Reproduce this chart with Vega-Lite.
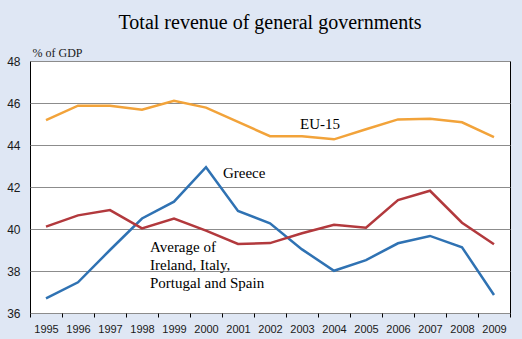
{
  "$schema": "https://vega.github.io/schema/vega-lite/v6.json",
  "width": 480,
  "height": 252,
  "autosize": {"type": "none"},
  "padding": {"left": 30, "top": 61, "right": 12, "bottom": 26},
  "background": "#dfe7f4",
  "title": {
    "text": "Total revenue of general governments",
    "font": "Liberation Serif",
    "fontSize": 20,
    "fontWeight": "normal",
    "color": "#000000",
    "anchor": "middle",
    "offset": 13
  },
  "config": {
    "view": {"fill": "#ffffff", "stroke": "#000000", "strokeWidth": 1}
  },
  "datasets": {
    "revenue": [
      {"year": 1995, "series": "EU-15", "value": 45.18},
      {"year": 1996, "series": "EU-15", "value": 45.87},
      {"year": 1997, "series": "EU-15", "value": 45.87},
      {"year": 1998, "series": "EU-15", "value": 45.68},
      {"year": 1999, "series": "EU-15", "value": 46.1},
      {"year": 2000, "series": "EU-15", "value": 45.78},
      {"year": 2001, "series": "EU-15", "value": 45.1},
      {"year": 2002, "series": "EU-15", "value": 44.42},
      {"year": 2003, "series": "EU-15", "value": 44.42},
      {"year": 2004, "series": "EU-15", "value": 44.27},
      {"year": 2005, "series": "EU-15", "value": 44.75},
      {"year": 2006, "series": "EU-15", "value": 45.22},
      {"year": 2007, "series": "EU-15", "value": 45.25},
      {"year": 2008, "series": "EU-15", "value": 45.08},
      {"year": 2009, "series": "EU-15", "value": 44.38},
      {"year": 1995, "series": "Greece", "value": 36.7},
      {"year": 1996, "series": "Greece", "value": 37.46},
      {"year": 1997, "series": "Greece", "value": 39.0},
      {"year": 1998, "series": "Greece", "value": 40.5},
      {"year": 1999, "series": "Greece", "value": 41.3},
      {"year": 2000, "series": "Greece", "value": 42.94},
      {"year": 2001, "series": "Greece", "value": 40.86},
      {"year": 2002, "series": "Greece", "value": 40.27},
      {"year": 2003, "series": "Greece", "value": 39.03},
      {"year": 2004, "series": "Greece", "value": 38.01},
      {"year": 2005, "series": "Greece", "value": 38.52},
      {"year": 2006, "series": "Greece", "value": 39.32},
      {"year": 2007, "series": "Greece", "value": 39.67},
      {"year": 2008, "series": "Greece", "value": 39.13},
      {"year": 2009, "series": "Greece", "value": 36.86},
      {"year": 1995, "series": "Average", "value": 40.11},
      {"year": 1996, "series": "Average", "value": 40.65},
      {"year": 1997, "series": "Average", "value": 40.9},
      {"year": 1998, "series": "Average", "value": 40.03},
      {"year": 1999, "series": "Average", "value": 40.5},
      {"year": 2000, "series": "Average", "value": 39.92},
      {"year": 2001, "series": "Average", "value": 39.29},
      {"year": 2002, "series": "Average", "value": 39.33},
      {"year": 2003, "series": "Average", "value": 39.8},
      {"year": 2004, "series": "Average", "value": 40.2},
      {"year": 2005, "series": "Average", "value": 40.06},
      {"year": 2006, "series": "Average", "value": 41.38},
      {"year": 2007, "series": "Average", "value": 41.82},
      {"year": 2008, "series": "Average", "value": 40.3},
      {"year": 2009, "series": "Average", "value": 39.27}
    ],
    "labels": [
      {"year": 2002.94, "value": 44.78, "label": "EU-15"},
      {"year": 2000.53, "value": 42.41, "label": "Greece"},
      {"year": 1998.25, "value": 38.92, "label": "Average of\nIreland, Italy,\nPortugal and Spain"}
    ]
  },
  "encoding": {
    "x": {
      "field": "year",
      "type": "quantitative",
      "scale": {"domain": [1994.5, 2009.5], "nice": false, "zero": false},
      "axis": {
        "title": null,
        "values": [1994.5, 1995.5, 1996.5, 1997.5, 1998.5, 1999.5, 2000.5, 2001.5, 2002.5, 2003.5, 2004.5, 2005.5, 2006.5, 2007.5, 2008.5, 2009.5],
        "labelExpr": "datum.value > 2009 ? '' : format(datum.value + 0.5, 'd')",
        "labelOffset": 16,
        "labelFont": "Liberation Sans",
        "labelFontSize": 11,
        "labelColor": "#1a1a1a",
        "labelPadding": 6,
        "labelFlush": false,
        "labelOverlap": false,
        "labelBound": false,
        "labelSeparation": 0,
        "domain": false,
        "grid": false,
        "ticks": true,
        "tickSize": 4,
        "tickColor": "#000000"
      }
    },
    "y": {
      "field": "value",
      "type": "quantitative",
      "scale": {"domain": [36, 48], "nice": false, "zero": false},
      "axis": {
        "title": "% of GDP",
        "titleAngle": 0,
        "titleAlign": "left",
        "titleBaseline": "alphabetic",
        "titleX": 2,
        "titleY": -5,
        "titleFont": "Liberation Serif",
        "titleFontSize": 12,
        "titleFontWeight": "normal",
        "titleColor": "#1a1a1a",
        "values": [36, 38, 40, 42, 44, 46, 48],
        "labelFont": "Liberation Sans",
        "labelFontSize": 12,
        "labelColor": "#1a1a1a",
        "labelPadding": 10,
        "domain": false,
        "ticks": false,
        "grid": true,
        "gridColor": "#8c8c8c",
        "gridWidth": 1
      }
    }
  },
  "layer": [
    {
      "data": {"name": "revenue"},
      "mark": {"type": "line", "strokeWidth": 2.5, "clip": true},
      "encoding": {
        "color": {
          "field": "series",
          "type": "nominal",
          "scale": {"domain": ["EU-15", "Greece", "Average"], "range": ["#f2a33a", "#2f72b3", "#b2393d"]},
          "legend": null
        }
      }
    },
    {
      "data": {"name": "labels"},
      "mark": {
        "type": "text",
        "font": "Liberation Serif",
        "fontSize": 15,
        "align": "left",
        "baseline": "alphabetic",
        "lineBreak": "\n",
        "lineHeight": 18,
        "color": "#000000"
      },
      "encoding": {
        "text": {"field": "label"}
      }
    }
  ]
}
